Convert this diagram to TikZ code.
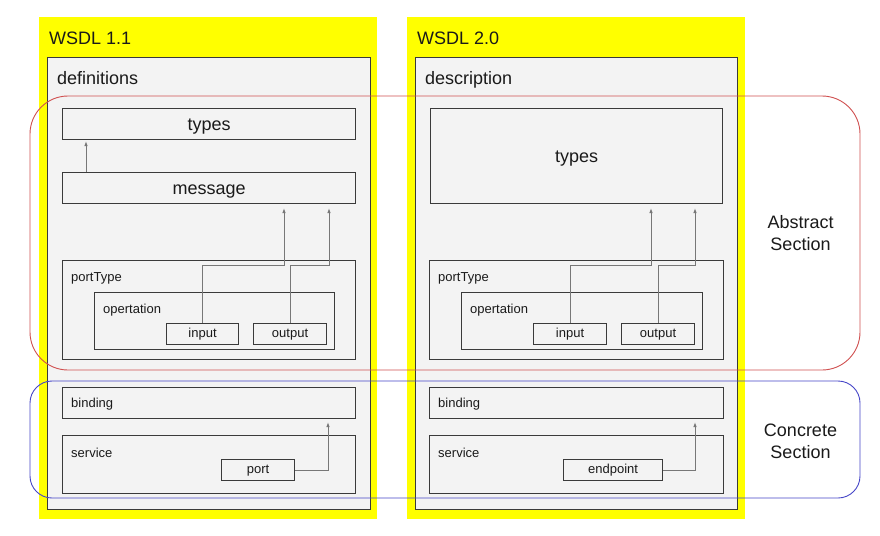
\documentclass[tikz,border=0pt]{standalone}
\usepackage{fontspec}
\setmainfont{Liberation Sans}
\usetikzlibrary{arrows.meta}
\definecolor{ylw}{HTML}{FFFF00}
\definecolor{boxfill}{HTML}{F3F3F3}
\definecolor{boxline}{HTML}{3A3A3A}
\definecolor{connline}{HTML}{777777}
\definecolor{absred}{HTML}{D05050}
\definecolor{conblue}{HTML}{4646C8}
\definecolor{txt}{HTML}{1A1A1A}
\tikzset{
  panel/.style={fill=ylw, draw=none, anchor=north west, inner sep=0},
  outerbox/.style={fill=boxfill, draw=boxline, line width=1.1pt, anchor=north west, inner sep=0},
  gbox/.style={fill=boxfill, draw=boxline, line width=1.1pt, anchor=north west, inner sep=0,
     text=txt},
  big/.style={font=\fontsize{18}{22}\selectfont},
  small/.style={font=\fontsize{13}{15}\selectfont},
  bigtext/.style={big, text height=16pt, text depth=3pt},
  smalltext/.style={small, text height=10pt, text depth=2.4pt},
  lbl/.style={anchor=base west, inner sep=0, text=txt},
  conn/.style={draw=connline, line width=0.9pt, -{Latex[length=5pt,width=3.5pt]}},
  absrect/.style={draw=absred, line width=0.9pt, rounded corners=38pt},
  conrect/.style={draw=conblue, line width=0.9pt, rounded corners=22pt},
}
\begin{document}
\begin{tikzpicture}[x=1pt,y=-1pt]
\useasboundingbox[fill=white] (0,0) rectangle (880,535);

% ---------- WSDL 1.1 ----------
\node[panel, minimum width=338pt, minimum height=502pt] (p1) at (39,17) {};
\node[lbl, big] (t1) at (49,45) {WSDL 1.1};
\node[outerbox, minimum width=323pt, minimum height=452pt] (def) at (47,57) {};
\node[lbl, big] (defl) at (57,84) {definitions};
\node[gbox, bigtext, minimum width=293pt, minimum height=31pt] (types1) at (62,108) {types};
\node[gbox, bigtext, minimum width=293pt, minimum height=31pt] (msg) at (62,172) {message};
\node[gbox, minimum width=293pt, minimum height=99pt] (pt1) at (62,260) {};
\node[lbl, small] (pt1l) at (71,281.5) {portType};
\node[gbox, minimum width=240pt, minimum height=57pt] (op1) at (94,292) {};
\node[lbl, small] (op1l) at (103,313.5) {opertation};
\node[gbox, smalltext, minimum width=72pt, minimum height=21pt] (in1) at (166,323) {input};
\node[gbox, smalltext, minimum width=73pt, minimum height=21pt] (out1) at (253,323) {output};
\node[gbox, minimum width=293pt, minimum height=31pt] (bind1) at (62,387) {};
\node[lbl, small] (bind1l) at (71,407.5) {binding};
\node[gbox, minimum width=293pt, minimum height=58pt] (svc1) at (62,435) {};
\node[lbl, small] (svc1l) at (71,457) {service};
\node[gbox, smalltext, minimum width=73pt, minimum height=21pt] (port1) at (221,459) {port};

\coordinate (mt) at (86,141);
\coordinate (a1) at (284,208);
\coordinate (a2) at (329,208);
\coordinate (a3) at (328,422);
\draw[conn] (msg.north -| mt) -- (mt);
\draw[conn] (in1.north) |- (284,265) -- (a1);
\draw[conn] (out1.north) |- (329,265) -- (a2);
\draw[conn] (port1.east) -| (a3);

% ---------- WSDL 2.0 ----------
\node[panel, minimum width=338pt, minimum height=502pt] (p2) at (407,17) {};
\node[lbl, big] (t2) at (417,45) {WSDL 2.0};
\node[outerbox, minimum width=322pt, minimum height=452pt] (desc) at (415,57) {};
\node[lbl, big] (descl) at (425,84) {description};
\node[gbox, bigtext, minimum width=292pt, minimum height=95pt] (types2) at (430,108) {types};
\node[gbox, minimum width=294pt, minimum height=99pt] (pt2) at (429,260) {};
\node[lbl, small] (pt2l) at (438,281.5) {portType};
\node[gbox, minimum width=241pt, minimum height=57pt] (op2) at (461,292) {};
\node[lbl, small] (op2l) at (470,313.5) {opertation};
\node[gbox, smalltext, minimum width=73pt, minimum height=21pt] (in2) at (533,323) {input};
\node[gbox, smalltext, minimum width=73pt, minimum height=21pt] (out2) at (621,323) {output};
\node[gbox, minimum width=294pt, minimum height=31pt] (bind2) at (429,387) {};
\node[lbl, small] (bind2l) at (438,407.5) {binding};
\node[gbox, minimum width=294pt, minimum height=58pt] (svc2) at (429,435) {};
\node[lbl, small] (svc2l) at (438,457) {service};
\node[gbox, smalltext, minimum width=99pt, minimum height=21pt] (ep2) at (563,459) {endpoint};

\coordinate (b1) at (651,208);
\coordinate (b2) at (695,208);
\coordinate (b3) at (695,422);
\draw[conn] (in2.north) |- (651,265) -- (b1);
\draw[conn] (out2.north) |- (695,265) -- (b2);
\draw[conn] (ep2.east) -| (b3);

% ---------- Sections ----------
\draw[absrect] (30,96) rectangle (860,370);
\draw[conrect] (30,381) rectangle (860,498);
\node[big, align=center, text=txt, inner sep=0] (abs) at (800.5,233) {Abstract\\Section};
\node[big, align=center, text=txt, inner sep=0] (con) at (800.5,441) {Concrete\\Section};
\end{tikzpicture}
\end{document}
